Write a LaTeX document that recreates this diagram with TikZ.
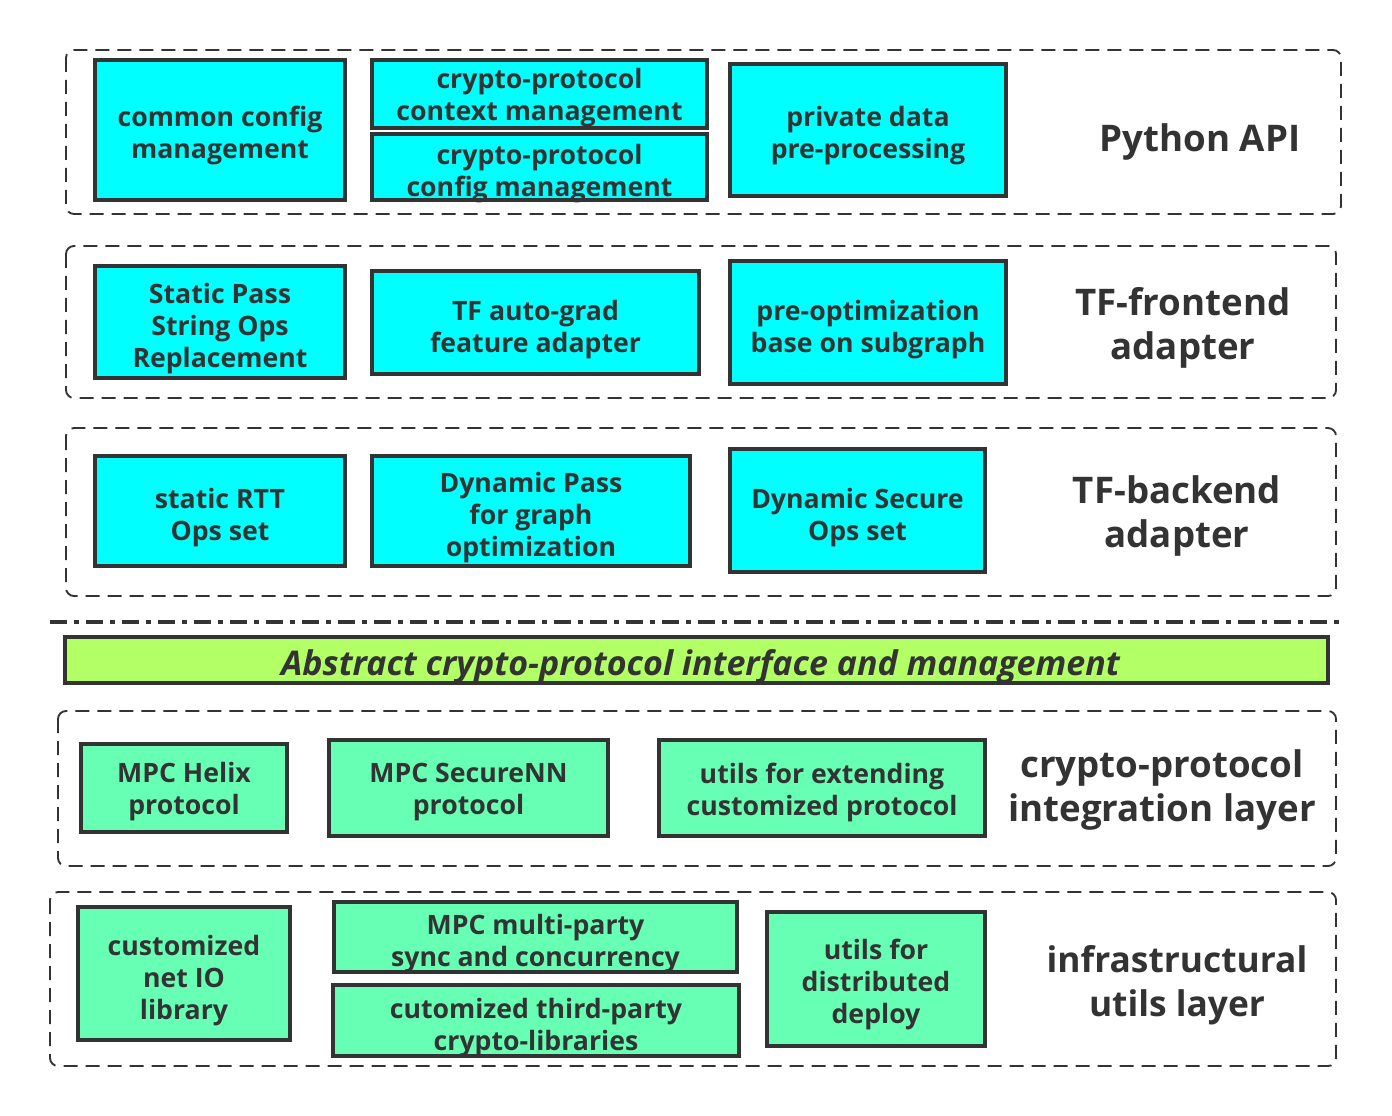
\documentclass[tikz,border=0pt]{standalone}
\usepackage{fontspec}
\setmainfont{Open Sans}
\definecolor{cybox}{HTML}{00FFFF}
\definecolor{mint}{HTML}{66FFB3}
\definecolor{lime}{HTML}{B3FF66}
\definecolor{ink}{HTML}{333333}
\begin{document}
\begin{tikzpicture}[x=0.75pt,y=-0.75pt,
  wh/.style 2 args={minimum width=#1*0.75pt, minimum height=#2*0.75pt},
  boxbase/.style={draw=ink, line width=2.4pt, inner sep=0pt},
  cbox/.style={boxbase, fill=cybox},
  mbox/.style={boxbase, fill=mint},
  tx/.style={align=center, inner sep=0pt, text=ink, yshift=-3pt,
     font=\fontsize{20}{24}\selectfont\bfseries},
  layer/.style={draw=ink, line width=1.4pt, dash pattern=on 10.5pt off 6pt, rounded corners=6pt},
  lbl/.style={align=center, text=ink, yshift=-3pt, font=\fontsize{27.5}{33}\selectfont\bfseries},
]
\useasboundingbox (0,0) rectangle (1392,1116);
% layers
\draw[layer] (66,50) rectangle (1341,214);
\draw[layer] (66,246) rectangle (1336,398);
\draw[layer] (66,428) rectangle (1336,596);
\draw[layer] (58,711) rectangle (1336,866);
\draw[layer] (50,892) rectangle (1336,1066);
% row 1
\node[cbox, wh={250}{140}] (a1) at (220,130) {};
\node[cbox, wh={335}{68}] (a2) at (539.5,94) {};
\node[cbox, wh={335}{66}] (a3) at (539.5,167) {};
\node[cbox, wh={276}{132}] (a4) at (868,130) {};
\node[tx] (a1t) at ([yshift=-1.5pt]a1.center) {common config\\management};
\node[tx] (a2t) at (a2.center) {crypto-protocol\\context management};
\node[tx] (a3t) at ([yshift=-2pt]a3.center) {crypto-protocol\\config management};
\node[tx] (a4t) at ([yshift=-1.5pt]a4.center) {private data\\pre-processing};
\node[lbl] (l1) at (1200,138) {Python API};
% row 2
\node[cbox, wh={250}{112}] (b1) at (220,322) {};
\node[cbox, wh={327}{103}] (b2) at (535.5,322.5) {};
\node[cbox, wh={276}{123}] (b3) at (868,322.5) {};
\node[tx] (b1t) at ([yshift=-2pt]b1.center) {Static Pass\\String Ops\\Replacement};
\node[tx] (b2t) at ([yshift=-2pt]b2.center) {TF auto-grad\\feature adapter};
\node[tx] (b3t) at ([yshift=-2pt]b3.center) {pre-optimization\\base on subgraph};
\node[lbl] (l2) at (1183,324) {TF-frontend\\adapter};
% row 3
\node[cbox, wh={250}{110}] (c1) at (220,511) {};
\node[cbox, wh={318}{110}] (c2) at (531,511) {};
\node[cbox, wh={255}{123}] (c3) at (857.5,510.5) {};
\node[tx] (c1t) at ([yshift=-2pt]c1.center) {static RTT\\Ops set};
\node[tx] (c2t) at ([yshift=-2pt]c2.center) {Dynamic Pass\\for graph\\optimization};
\node[tx] (c3t) at ([yshift=-2pt]c3.center) {Dynamic Secure\\Ops set};
\node[lbl] (l3) at (1177,512) {TF-backend\\adapter};
% separator
\coordinate (s1) at (50,622);
\coordinate (s2) at (1340,622);
\draw[ink, line width=3pt, dash pattern=on 13pt off 5pt on 4pt off 5pt] (s1) -- (s2);
% abstract bar
\node[boxbase, fill=lime, wh={1263}{46}] (ab) at (696.5,660) {};
\node[tx, font=\fontsize{25.5}{30}\selectfont\bfseries\itshape] (abt) at ([xshift=3pt,yshift=-2pt]ab.center) {Abstract crypto-protocol interface and management};
% crypto row
\node[mbox, wh={206}{88}] (d1) at (184,788) {};
\node[mbox, wh={279}{96}] (d2) at (468.5,788) {};
\node[mbox, wh={326}{96}] (d3) at (822,788) {};
\node[tx] (d1t) at (d1.center) {MPC Helix\\protocol};
\node[tx] (d2t) at (d2.center) {MPC SecureNN\\protocol};
\node[tx] (d3t) at (d3.center) {utils for extending\\customized protocol};
\node[lbl] (l4) at (1162,786) {crypto-protocol\\integration layer};
% infra row
\node[mbox, wh={212}{133}] (e1) at (184,973.5) {};
\node[mbox, wh={403}{70}] (e2) at (535.5,937) {};
\node[mbox, wh={406}{71}] (e3) at (536,1020.5) {};
\node[mbox, wh={218}{134}] (e4) at (876,979) {};
\node[tx] (e1t) at ([yshift=-2pt]e1.center) {customized\\net IO\\library};
\node[tx] (e2t) at ([yshift=-2pt]e2.center) {MPC multi-party\\sync and concurrency};
\node[tx] (e3t) at ([yshift=-2pt]e3.center) {cutomized third-party\\crypto-libraries};
\node[tx] (e4t) at ([yshift=-1pt]e4.center) {utils for\\distributed\\deploy};
\node[lbl, font=\fontsize{26.5}{33}\selectfont\bfseries] (l5) at (1177,981) {infrastructural\\utils layer};
\end{tikzpicture}
\end{document}
